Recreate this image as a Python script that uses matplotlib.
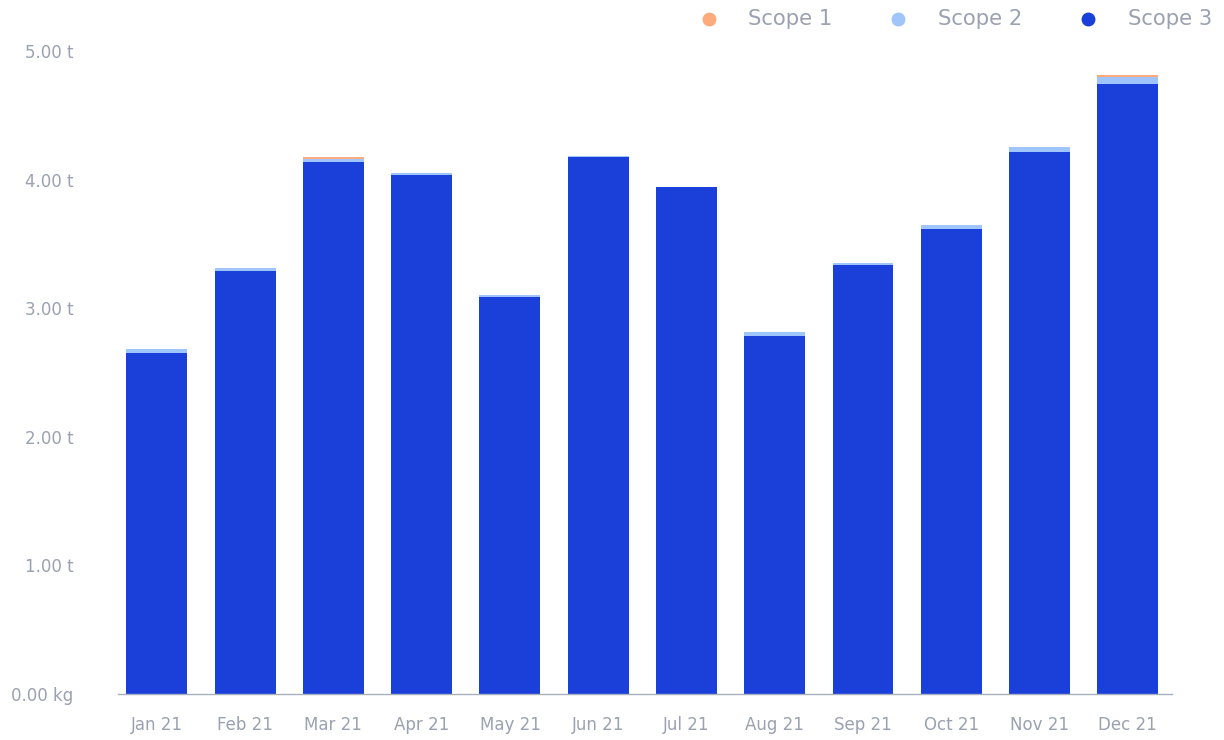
import matplotlib
matplotlib.use("Agg")
import matplotlib.pyplot as plt
from matplotlib.lines import Line2D
import numpy as np

months = ["Jan 21", "Feb 21", "Mar 21", "Apr 21", "May 21", "Jun 21",
          "Jul 21", "Aug 21", "Sep 21", "Oct 21", "Nov 21", "Dec 21"]
scope1 = [0.0, 0.0, 0.015, 0.0, 0.0, 0.0, 0.0, 0.0, 0.0, 0.0, 0.0, 0.012]
scope2 = [0.031, 0.024, 0.025, 0.015, 0.016, 0.004, 0.003, 0.031, 0.015, 0.031, 0.038, 0.058]
scope3 = [2.652, 3.289, 4.137, 4.036, 3.087, 4.179, 3.939, 2.784, 3.336, 3.616, 4.215, 4.743]
ytick_vals = [0, 1, 2, 3, 4, 5]
ytick_labels = ["0.00 kg", "1.00 t", "2.00 t", "3.00 t", "4.00 t", "5.00 t"]
series_names = ["Scope 1", "Scope 2", "Scope 3"]
colors = {"Scope 1": "#fdaa7d", "Scope 2": "#9fc5fb", "Scope 3": "#1a40d9"}

text_color = "#9aa1b0"
W, H = 1224, 740
fig = plt.figure(figsize=(W / 100, H / 100), dpi=100)
ax = fig.add_axes([118 / W, (H - 694) / H, (1172 - 118) / W, (694 - 51) / H])

x = np.arange(len(months))
bw = 0.69
s3 = np.array(scope3)
s2 = np.array(scope2)
s1 = np.array(scope1)
ax.bar(x, s3, width=bw, color=colors["Scope 3"], zorder=2)
ax.bar(x, s2, width=bw, bottom=s3, color=colors["Scope 2"], zorder=2)
ax.bar(x, s1, width=bw, bottom=s3 + s2, color=colors["Scope 1"], zorder=2)

ax.set_xlim(-0.44, 11.5)
ax.set_ylim(0, 5)
ax.set_xticks(x)
ax.set_xticklabels(months)
ax.set_yticks(ytick_vals)
ax.set_yticklabels(ytick_labels)
ax.tick_params(axis="both", length=0, colors=text_color, labelsize=12)
ax.tick_params(axis="x", pad=16)
ax.tick_params(axis="y", pad=32)
for lbl in ax.get_yticklabels():
    lbl.set_horizontalalignment("right")
for sp in ["top", "right", "left"]:
    ax.spines[sp].set_visible(False)
ax.spines["bottom"].set_color("#a8afbd")
ax.spines["bottom"].set_linewidth(1.0)

# legend (manual, top right)
marker_x = [709, 898, 1088]
text_x = [748, 938, 1128]
ly = 19
for name, mx, tx in zip(series_names, marker_x, text_x):
    fig.add_artist(Line2D([mx / W], [1 - ly / H], marker="o", markersize=9,
                          color=colors[name], linestyle="none",
                          transform=fig.transFigure))
    fig.text(tx / W, 1 - ly / H, name, color=text_color, fontsize=15.2,
             va="center", ha="left")

fig.savefig("out.png", dpi=100, facecolor="white")
